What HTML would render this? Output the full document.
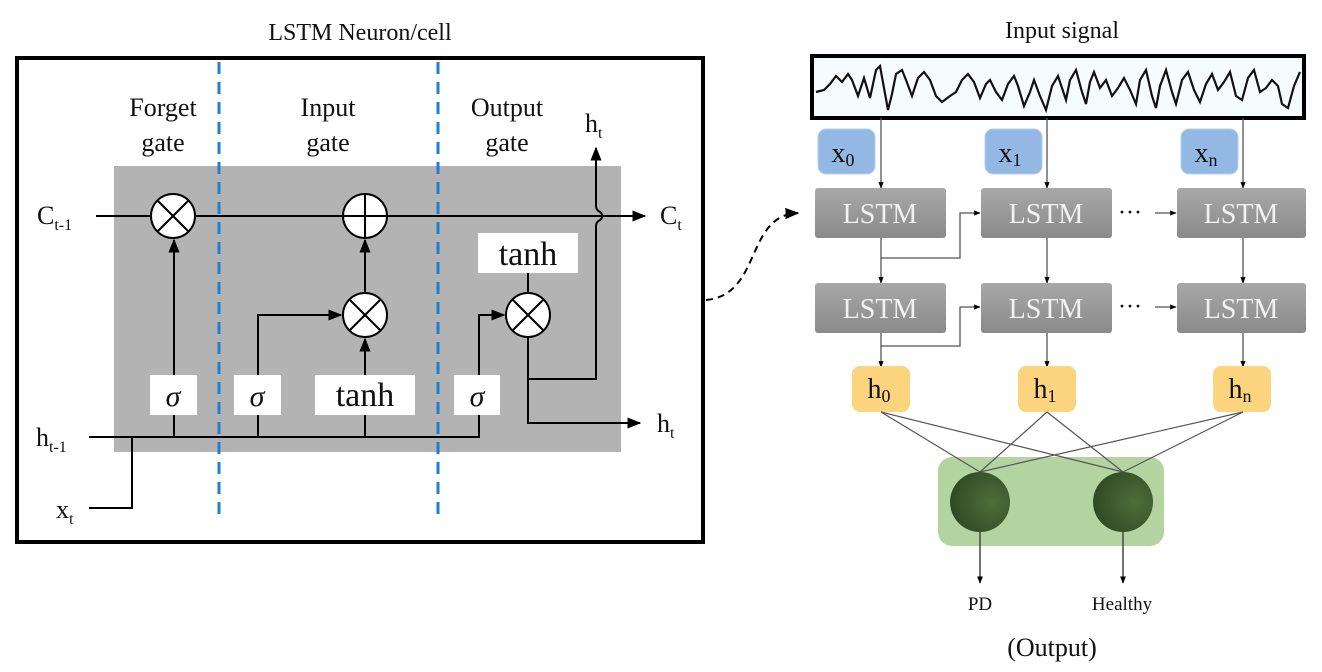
<!DOCTYPE html>
<html><head><meta charset="utf-8"><style>
html,body{margin:0;padding:0;background:#fff;}
svg{display:block;}
text{font-family:"Liberation Serif",serif;fill:#111;}
</style></head><body>
<svg width="1322" height="672" viewBox="0 0 1322 672" xmlns="http://www.w3.org/2000/svg">
<defs>
<marker id="a" viewBox="0 0 10 10" refX="9" refY="5" markerWidth="7" markerHeight="7" orient="auto"><path d="M0,1 L10,5 L0,9 z" fill="#000"/></marker>
<marker id="s" viewBox="0 0 10 10" refX="9" refY="5" markerWidth="5" markerHeight="5" orient="auto"><path d="M0,1 L10,5 L0,9 z" fill="#000"/></marker>
<linearGradient id="lg" x1="0" y1="0" x2="0" y2="1"><stop offset="0" stop-color="#a8a8a8"/><stop offset="1" stop-color="#8a8a8a"/></linearGradient>
<radialGradient id="gc" cx="0.7" cy="0.5" r="0.7"><stop offset="0" stop-color="#4e6e3c"/><stop offset="1" stop-color="#2f4a22"/></radialGradient>
</defs>

<!-- LEFT PANEL -->
<text x="360" y="40" font-size="24" text-anchor="middle">LSTM Neuron/cell</text>
<rect x="17" y="58" width="686" height="484" fill="#fff" stroke="#000" stroke-width="4"/>
<rect x="114" y="166" width="507" height="286" fill="#b3b3b3"/>
<line x1="219" y1="62" x2="219" y2="518" stroke="#1f7fd0" stroke-width="3" stroke-dasharray="12,8"/>
<line x1="438" y1="62" x2="438" y2="518" stroke="#1f7fd0" stroke-width="3" stroke-dasharray="12,8"/>
<g font-size="26" text-anchor="middle">
<text x="163" y="116">Forget</text><text x="163" y="151">gate</text>
<text x="328" y="116">Input</text><text x="328" y="151">gate</text>
<text x="507" y="116">Output</text><text x="507" y="151">gate</text>
</g>
<!-- C line -->
<text x="37" y="224" font-size="26">C<tspan font-size="16" dy="6">t-1</tspan></text>
<path d="M96,216 H645" fill="none" stroke="#000" stroke-width="2" marker-end="url(#a)"/>
<text x="660" y="224" font-size="26">C<tspan font-size="16" dy="6">t</tspan></text>
<!-- circles -->
<g stroke="#000" stroke-width="2">
<circle cx="173" cy="216" r="22" fill="#fff"/>
<line x1="158" y1="201" x2="188" y2="231"/><line x1="188" y1="201" x2="158" y2="231"/>
<circle cx="365" cy="216" r="22" fill="#fff"/>
<line x1="365" y1="194" x2="365" y2="238"/><line x1="343" y1="216" x2="387" y2="216"/>
<circle cx="365" cy="315" r="22" fill="#fff"/>
<line x1="350" y1="300" x2="380" y2="330"/><line x1="380" y1="300" x2="350" y2="330"/>
<circle cx="528" cy="315" r="22" fill="#fff"/>
<line x1="513" y1="300" x2="543" y2="330"/><line x1="543" y1="300" x2="513" y2="330"/>
</g>
<!-- connectors -->
<g fill="none" stroke="#000" stroke-width="2">
<path d="M174,375 V240" marker-end="url(#a)"/>
<path d="M365,375 V339" marker-end="url(#a)"/>
<path d="M365,293 V240" marker-end="url(#a)"/>
<path d="M258,375 V315 H341" marker-end="url(#a)"/>
<path d="M479,375 V315 H504" marker-end="url(#a)"/>
<path d="M528,273 V293"/>
<path d="M528,337 V423 H640" marker-end="url(#a)"/>
<path d="M528,379 H596 V226 Q596,222 600,220 Q605,216 600,212 Q596,210 596,206 V148" marker-end="url(#a)"/>
<path d="M89,437 H479 V415"/>
<path d="M174,437 V415 M258,437 V415 M365,437 V415"/>
<path d="M89,508 H132 V437"/>
</g>
<!-- boxes -->
<g fill="#fff">
<rect x="150" y="375" width="47" height="40"/>
<rect x="234" y="375" width="47" height="40"/>
<rect x="315" y="375" width="100" height="40"/>
<rect x="454" y="375" width="46" height="40"/>
<rect x="478" y="233" width="100" height="40"/>
</g>
<g font-size="30" text-anchor="middle">
<text x="173" y="406" font-style="italic">σ</text>
<text x="257" y="406" font-style="italic">σ</text>
<text x="477" y="406" font-style="italic">σ</text>
<text x="365" y="406" font-size="34">tanh</text>
<text x="528" y="265" font-size="34">tanh</text>
</g>
<text x="36" y="446" font-size="26">h<tspan font-size="16" dy="6">t-1</tspan></text>
<text x="56" y="518" font-size="26">x<tspan font-size="16" dy="6">t</tspan></text>
<text x="657" y="432" font-size="26">h<tspan font-size="16" dy="6">t</tspan></text>
<text x="585" y="132" font-size="26">h<tspan font-size="16" dy="6">t</tspan></text>

<!-- dashed curve -->
<path d="M706,300 C762,295 745,215 798,213" fill="none" stroke="#000" stroke-width="2" stroke-dasharray="7,5" marker-end="url(#a)"/>

<!-- RIGHT PANEL -->
<text x="1062" y="38" font-size="24" text-anchor="middle">Input signal</text>
<rect x="812" y="56" width="492" height="62" fill="#f6fbfd" stroke="#000" stroke-width="4"/>
<polyline fill="none" stroke="#111" stroke-width="2.2" points="816,92 824,90 830,84 836,76 842,82 848,74 852,80 858,96 864,78 870,98 876,70 880,66 884,88 888,110 892,94 896,74 902,70 906,80 912,96 918,78 924,72 930,80 936,96 942,102 950,96 956,92 962,80 968,74 974,82 980,98 986,84 990,80 996,92 1002,100 1008,84 1014,76 1018,86 1024,106 1030,92 1034,80 1040,96 1046,110 1052,86 1058,76 1062,88 1066,100 1070,80 1076,70 1082,92 1086,104 1090,82 1094,72 1100,88 1106,80 1112,96 1118,88 1124,78 1130,90 1136,104 1140,80 1146,70 1152,96 1156,108 1160,86 1166,70 1172,92 1176,104 1182,80 1188,72 1194,90 1200,102 1206,84 1212,74 1218,90 1224,82 1230,72 1236,96 1242,100 1248,78 1254,70 1260,92 1266,88 1272,80 1278,86 1282,104 1288,108 1294,86 1300,72"/>
<!-- x boxes -->
<g fill="#93b8e4" stroke="#b6cfee" stroke-width="1">
<rect x="818" y="129" width="57" height="45" rx="8"/>
<rect x="985" y="129" width="57" height="45" rx="8"/>
<rect x="1181" y="129" width="57" height="45" rx="8"/>
</g>
<g font-size="28" text-anchor="middle">
<text x="843" y="162">x<tspan font-size="18" dy="4">0</tspan></text>
<text x="1010" y="162">x<tspan font-size="18" dy="4">1</tspan></text>
<text x="1206" y="162">x<tspan font-size="18" dy="4">n</tspan></text>
</g>
<!-- vertical arrows -->
<g fill="none" stroke="#555" stroke-width="1.3">
<path d="M881,118 V188" marker-end="url(#s)"/>
<path d="M1047,118 V188" marker-end="url(#s)"/>
<path d="M1243,118 V188" marker-end="url(#s)"/>
<path d="M881,238 V283" marker-end="url(#s)"/>
<path d="M1047,238 V283" marker-end="url(#s)"/>
<path d="M1243,238 V283" marker-end="url(#s)"/>
<path d="M881,333 V367" marker-end="url(#s)"/>
<path d="M1047,333 V367" marker-end="url(#s)"/>
<path d="M1243,333 V367" marker-end="url(#s)"/>
<path d="M881,258 H960 V213 H980" marker-end="url(#s)"/>
<path d="M881,346 H960 V307 H980" marker-end="url(#s)"/>
<path d="M1155,213 H1176" marker-end="url(#s)"/>
<path d="M1155,307 H1176" marker-end="url(#s)"/>
</g>
<g font-size="24" text-anchor="middle"><text x="1130" y="220">···</text><text x="1130" y="314">···</text></g>
<!-- LSTM boxes -->
<g fill="url(#lg)">
<rect x="815" y="188" width="131" height="50" rx="3"/>
<rect x="981" y="188" width="131" height="50" rx="3"/>
<rect x="1177" y="188" width="129" height="50" rx="3"/>
<rect x="815" y="283" width="131" height="50" rx="3"/>
<rect x="981" y="283" width="131" height="50" rx="3"/>
<rect x="1177" y="283" width="129" height="50" rx="3"/>
</g>
<g font-size="28" text-anchor="middle">
<text x="880" y="223" style="fill:#f2f2f2">LSTM</text>
<text x="1046" y="223" style="fill:#f2f2f2">LSTM</text>
<text x="1241" y="223" style="fill:#f2f2f2">LSTM</text>
<text x="880" y="318" style="fill:#f2f2f2">LSTM</text>
<text x="1046" y="318" style="fill:#f2f2f2">LSTM</text>
<text x="1241" y="318" style="fill:#f2f2f2">LSTM</text>
</g>
<!-- h boxes -->
<g fill="#fcd47e">
<rect x="852" y="366" width="58" height="46" rx="8"/>
<rect x="1018" y="366" width="58" height="46" rx="8"/>
<rect x="1213" y="366" width="58" height="46" rx="8"/>
</g>
<g font-size="28" text-anchor="middle">
<text x="879" y="398">h<tspan font-size="18" dy="4">0</tspan></text>
<text x="1045" y="398">h<tspan font-size="18" dy="4">1</tspan></text>
<text x="1240" y="398">h<tspan font-size="18" dy="4">n</tspan></text>
</g>
<!-- green output -->
<rect x="938" y="457" width="226" height="89" rx="14" fill="#b3d4a0"/>
<g stroke="#555" stroke-width="1.2">
<line x1="881" y1="412" x2="980" y2="472"/><line x1="881" y1="412" x2="1123" y2="472"/>
<line x1="1047" y1="412" x2="980" y2="472"/><line x1="1047" y1="412" x2="1123" y2="472"/>
<line x1="1243" y1="412" x2="980" y2="472"/><line x1="1243" y1="412" x2="1123" y2="472"/>
</g>
<circle cx="980" cy="502" r="30" fill="url(#gc)"/>
<circle cx="1123" cy="502" r="30" fill="url(#gc)"/>
<g fill="none" stroke="#444" stroke-width="1.5">
<path d="M980,532 V583" marker-end="url(#s)"/>
<path d="M1123,532 V583" marker-end="url(#s)"/>
</g>
<text x="980" y="610" font-size="19" text-anchor="middle">PD</text>
<text x="1122" y="610" font-size="19" text-anchor="middle">Healthy</text>
<text x="1052" y="656" font-size="26" text-anchor="middle">(Output)</text>
</svg>
</body></html>
